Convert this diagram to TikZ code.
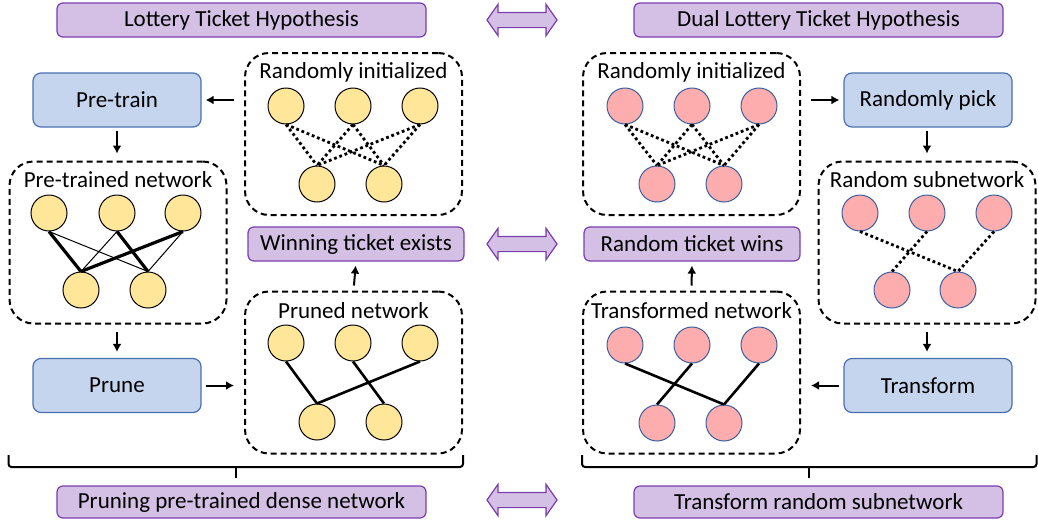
\documentclass[tikz,border=0pt]{standalone}
\usepackage{fontspec}
\setmainfont{Carlito}
\usetikzlibrary{shapes.arrows,arrows.meta}

\definecolor{hypofill}{HTML}{D4C0E4}
\definecolor{hypoline}{HTML}{7A3DB0}
\definecolor{stepfill}{HTML}{C6D5EE}
\definecolor{stepline}{HTML}{4A70B0}
\definecolor{goldfill}{HTML}{FFE699}
\definecolor{pinkfill}{HTML}{FDADAD}
\definecolor{pinkline}{HTML}{3A5FA0}

\tikzset{
    hypo/.style={draw=hypoline, fill=hypofill, line width=0.6pt, rounded corners=3pt,
        minimum width=184.5pt, minimum height=17pt, inner sep=0pt},
    result/.style={hypo, minimum width=108pt},
    stepbox/.style={draw=stepline, fill=stepfill, line width=0.6pt, rounded corners=4pt,
        minimum width=84pt, minimum height=27pt, inner sep=0pt},
    netbox/.style={draw, line width=1pt, dash pattern=on 3pt off 2pt, rounded corners=12pt,
        minimum width=108.5pt, minimum height=81pt, inner sep=0pt},
    gold/.style={circle, draw, fill=goldfill, line width=0.5pt, minimum size=18pt, inner sep=0pt},
    pink/.style={circle, draw=pinkline, fill=pinkfill, line width=0.5pt, minimum size=18pt, inner sep=0pt},
    twoway/.style={double arrow, draw=hypoline, fill=hypofill, line width=0.6pt,
        minimum height=35pt, inner xsep=0pt, inner ysep=3.5pt,
        double arrow head extend=4pt, double arrow tip angle=110},
    flow/.style={-{Latex[length=4pt,width=4.5pt]}, line width=1pt},
    dots/.style={line width=1.4pt, dash pattern=on 1.4pt off 1.4pt},
    strong/.style={line width=1.6pt},
    weak/.style={line width=0.5pt},
    kept/.style={line width=1.3pt},
    brace/.style={line width=1pt, rounded corners=1.5pt}
}

\begin{document}
\begin{tikzpicture}[x=0.5pt, y=-0.5pt, font=\fontsize{11.5}{13}\selectfont]
    \useasboundingbox (0,0) rectangle (1038,520);

    % Headings
    \node[hypo] (lth) at (241.5,20) {Lottery Ticket Hypothesis};
    \node[hypo] (dlth) at (818.5,20) {Dual Lottery Ticket Hypothesis};
    \node[result] (win) at (356,244) {Winning ticket exists};
    \node[result] (wins) at (692,244) {Random ticket wins};
    \node[hypo, minimum height=16pt] (pruning) at (241.5,502) {Pruning pre-trained dense network};
    \node[hypo, minimum height=16pt] (transsub) at (818.5,502) {Transform random subnetwork};
    \node[twoway] (dual1) at (522,20) {};
    \node[twoway] (dual2) at (522,244) {};
    \node[twoway] (dual3) at (522,500) {};

    % Steps
    \node[stepbox] (pretrain) at (117,100) {Pre-train};
    \node[stepbox] (prune) at (117,385.5) {Prune};
    \node[stepbox] (pick) at (928,100) {Randomly pick};
    \node[stepbox] (transform) at (928,385.5) {Transform};

    % Network boxes
    \node[netbox] (initL) at (353.5,134) {};
    \node[netbox] (trained) at (118,242.5) {};
    \node[netbox] (pruned) at (353.5,372.5) {};
    \node[netbox] (initR) at (691.5,134) {};
    \node[netbox] (subnet) at (927,242.5) {};
    \node[netbox] (transformed) at (691.5,372.5) {};
    \node (initLlab) at (353.5,72) {Randomly initialized};
    \node (trainedlab) at (118,180) {Pre-trained network};
    \node (prunedlab) at (353.5,311) {Pruned network};
    \node (initRlab) at (691.5,72) {Randomly initialized};
    \node (subnetlab) at (927,180) {Random subnetwork};
    \node (transformedlab) at (691.5,311) {Transformed network};

    % Neurons
    \node[gold] (a1) at (286,106) {};
    \node[gold] (a2) at (353,106) {};
    \node[gold] (a3) at (420,106) {};
    \node[gold] (a4) at (317,184) {};
    \node[gold] (a5) at (384,184) {};

    \node[gold] (b1) at (49,213) {};
    \node[gold] (b2) at (117,213) {};
    \node[gold] (b3) at (183,213) {};
    \node[gold] (b4) at (81,290) {};
    \node[gold] (b5) at (148,290) {};

    \node[gold] (c1) at (286,343) {};
    \node[gold] (c2) at (353,343) {};
    \node[gold] (c3) at (420,343) {};
    \node[gold] (c4) at (317,422) {};
    \node[gold] (c5) at (384,422) {};

    \node[pink] (d1) at (625,106) {};
    \node[pink] (d2) at (692,106) {};
    \node[pink] (d3) at (759,106) {};
    \node[pink] (d4) at (657,184) {};
    \node[pink] (d5) at (724,184) {};

    \node[pink] (e1) at (860,213) {};
    \node[pink] (e2) at (927,213) {};
    \node[pink] (e3) at (994,213) {};
    \node[pink] (e4) at (892,290) {};
    \node[pink] (e5) at (958,290) {};

    \node[pink] (f1) at (625,345) {};
    \node[pink] (f2) at (692,345) {};
    \node[pink] (f3) at (759,345) {};
    \node[pink] (f4) at (657,423) {};
    \node[pink] (f5) at (724,423) {};

    % Weights
    \draw[dots] (a1.south) -- (a4.north);
    \draw[dots] (a1.south) -- (a5.north);
    \draw[dots] (a2.south) -- (a4.north);
    \draw[dots] (a2.south) -- (a5.north);
    \draw[dots] (a3.south) -- (a4.north);
    \draw[dots] (a3.south) -- (a5.north);

    \draw[strong] (b1.south) -- (b4.north);
    \draw[weak] (b1.south) -- (b5.north);
    \draw[weak] (b2.south) -- (b4.north);
    \draw[strong] (b2.south) -- (b5.north);
    \draw[strong] (b3.south) -- (b4.north);
    \draw[weak] (b3.south) -- (b5.north);

    \draw[kept] (c1.south) -- (c4.north);
    \draw[kept] (c2.south) -- (c5.north);
    \draw[kept] (c3.south) -- (c4.north);

    \draw[dots] (d1.south) -- (d4.north);
    \draw[dots] (d1.south) -- (d5.north);
    \draw[dots] (d2.south) -- (d4.north);
    \draw[dots] (d2.south) -- (d5.north);
    \draw[dots] (d3.south) -- (d4.north);
    \draw[dots] (d3.south) -- (d5.north);

    \draw[dots] (e1.south) -- (e5.north);
    \draw[dots] (e2.south) -- (e4.north);
    \draw[dots] (e3.south) -- (e5.north);

    \draw[kept] (f1.south) -- (f5.north);
    \draw[kept] (f2.south) -- (f4.north);
    \draw[kept] (f3.south) -- (f5.north);

    % Flow
    \draw[flow, shorten <=5pt, shorten >=2pt] (initL.west |- pretrain) -- (pretrain.east);
    \draw[flow, shorten <=1.5pt, shorten >=3.5pt] (pretrain.south) -- (pretrain.south |- trained.north);
    \draw[flow, shorten <=3.5pt, shorten >=3pt] (prune.north |- trained.south) -- (prune.north);
    \draw[flow, shorten <=2pt, shorten >=5pt] (prune.east) -- (pruned.west |- prune);
    \draw[flow, shorten <=2.5pt, shorten >=2pt] (pruned.north) -- (win.south);
    \draw[flow, shorten <=5pt, shorten >=2pt] (initR.east |- pick) -- (pick.west);
    \draw[flow, shorten <=1.5pt, shorten >=3.5pt] (subnet.north |- pick.south) -- (subnet.north);
    \draw[flow, shorten <=3.5pt, shorten >=3pt] (subnet.south) -- (subnet.south |- transform.north);
    \draw[flow, shorten <=2pt, shorten >=5pt] (transform.west) -- (transformed.east |- transform);
    \draw[flow, shorten <=2.5pt, shorten >=2pt] (transformed.north) -- (wins.south);

    % Braces
    \coordinate (bl) at (236,478);
    \coordinate (br) at (809,478);
    \draw[brace] (trained.west |- 0,455) -- (trained.west |- 0,467) -- (pruned.east |- 0,467) -- (pruned.east |- 0,455);
    \draw[brace] (bl |- 0,467) -- (bl);
    \draw[brace] (transformed.west |- 0,455) -- (transformed.west |- 0,467) -- (subnet.east |- 0,467) -- (subnet.east |- 0,455);
    \draw[brace] (br |- 0,467) -- (br);
\end{tikzpicture}
\end{document}
